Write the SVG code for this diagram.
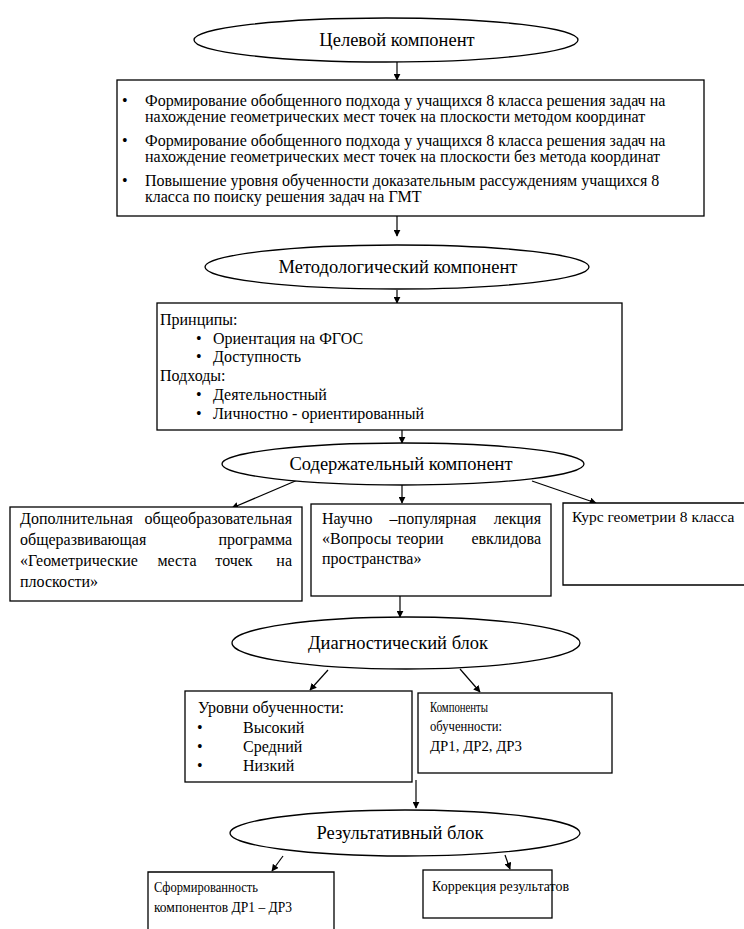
<svg xmlns="http://www.w3.org/2000/svg" width="744" height="929" viewBox="0 0 744 929">
<defs>
<marker id="ah" viewBox="0 0 10 10" refX="9" refY="5" markerWidth="7" markerHeight="7" orient="auto" markerUnits="userSpaceOnUse">
<path d="M0,0 L10,5 L0,10 z" fill="#000"/>
</marker>
</defs>
<style>
.sh{fill:#fff;stroke:#000;stroke-width:1.3}
text{font-family:'Liberation Serif','DejaVu Serif','Noto Serif',serif;fill:#000}
.e{font-size:18.5px;text-anchor:middle}
.b{font-size:16px}
.s{font-size:14px}
.m{text-anchor:middle}
.r{text-anchor:end}
.c{stroke:#000;stroke-width:1.2;fill:none;marker-end:url(#ah)}
</style>
<rect width="744" height="929" fill="#fff"/>

<g id="connectors">
<line class="c" x1="397" y1="62" x2="397" y2="80"/>
<line class="c" x1="397" y1="216" x2="397" y2="236"/>
<line class="c" x1="397" y1="290" x2="397" y2="303"/>
<line class="c" x1="402" y1="430" x2="402" y2="443"/>
<line class="c" x1="300" y1="479" x2="232" y2="508"/>
<line class="c" x1="402" y1="485" x2="402" y2="503"/>
<line class="c" x1="532" y1="481" x2="596" y2="503"/>
<line class="c" x1="400" y1="596" x2="400" y2="617"/>
<line class="c" x1="328" y1="670" x2="310" y2="690"/>
<line class="c" x1="460" y1="669" x2="480" y2="692"/>
<line class="c" x1="416" y1="780" x2="416" y2="808"/>
<line class="c" x1="283" y1="856" x2="272" y2="871"/>
<line class="c" x1="505" y1="855" x2="510" y2="869"/>
</g>

<g id="n1">
<ellipse class="sh" cx="386" cy="40" rx="192" ry="22"/>
<text class="e" x="397" y="46">Целевой компонент</text>
</g>

<g id="n2">
<rect class="sh" x="117" y="80" width="587" height="136"/>
<text class="b" x="122" y="106">•</text>
<text class="b" x="145" y="106">Формирование обобщенного подхода у учащихся 8 класса решения задач на</text>
<text class="b" x="145" y="122">нахождение геометрических мест точек на плоскости методом координат</text>
<text class="b" x="122" y="146">•</text>
<text class="b" x="145" y="146">Формирование обобщенного подхода у учащихся 8 класса решения задач на</text>
<text class="b" x="145" y="162">нахождение геометрических мест точек на плоскости без метода координат</text>
<text class="b" x="122" y="186">•</text>
<text class="b" x="145" y="186">Повышение уровня обученности доказательным рассуждениям учащихся 8</text>
<text class="b" x="145" y="202">класса по поиску решения задач на ГМТ</text>
</g>

<g id="n3">
<ellipse class="sh" cx="397" cy="267" rx="192" ry="22"/>
<text class="e" x="398" y="273">Методологический компонент</text>
</g>

<g id="n4">
<rect class="sh" x="157" y="303" width="465" height="127"/>
<text class="b" x="160" y="325">Принципы:</text>
<text class="b" x="196" y="344">•</text>
<text class="b" x="213" y="344">Ориентация на ФГОС</text>
<text class="b" x="196" y="362">•</text>
<text class="b" x="213" y="362">Доступность</text>
<text class="b" x="160" y="381">Подходы:</text>
<text class="b" x="196" y="400">•</text>
<text class="b" x="213" y="400">Деятельностный</text>
<text class="b" x="196" y="419">•</text>
<text class="b" x="213" y="419">Личностно - ориентированный</text>
</g>

<g id="n5">
<ellipse class="sh" cx="403" cy="464" rx="181" ry="21"/>
<text class="e" x="401" y="470">Содержательный компонент</text>
</g>

<g id="n6">
<rect class="sh" x="10" y="507" width="292" height="94"/>
<text class="b" x="20" y="524">Дополнительная</text>
<text class="b r" x="292" y="524">общеобразовательная</text>
<text class="b" x="20" y="545">общеразвивающая</text>
<text class="b r" x="292" y="545">программа</text>
<text class="b" x="20" y="566">«Геометрические</text>
<text class="b m" x="177" y="566">места</text>
<text class="b m" x="234" y="566">точек</text>
<text class="b r" x="292" y="566">на</text>
<text class="b" x="20" y="587">плоскости»</text>
</g>

<g id="n7">
<rect class="sh" x="311" y="504" width="240" height="92"/>
<text class="b" x="322" y="524">Научно</text>
<text class="b m" x="433" y="524">–популярная</text>
<text class="b r" x="541" y="524">лекция</text>
<text class="b" x="322" y="544">«Вопросы</text>
<text class="b m" x="420" y="544">теории</text>
<text class="b r" x="541" y="544">евклидова</text>
<text class="b" x="322" y="564">пространства»</text>
</g>

<g id="n8">
<path class="sh" d="M744,503 L563,503 L563,585 L744,585"/>
<text x="572" y="522" style="font-size:15.5px">Курс геометрии 8 класса</text>
</g>

<g id="n9">
<ellipse class="sh" cx="406" cy="643" rx="174" ry="26"/>
<text class="e" x="398" y="649">Диагностический блок</text>
</g>

<g id="n10">
<rect class="sh" x="185" y="691" width="227" height="91"/>
<text class="b" x="198" y="713">Уровни обученности:</text>
<text class="b" x="197" y="733">•</text>
<text class="b" x="243" y="733">Высокий</text>
<text class="b" x="197" y="752">•</text>
<text class="b" x="243" y="752">Средний</text>
<text class="b" x="197" y="771">•</text>
<text class="b" x="243" y="771">Низкий</text>
</g>

<g id="n11">
<rect class="sh" x="418" y="693" width="194" height="80"/>
<text class="s" x="430" y="712" textLength="58" lengthAdjust="spacingAndGlyphs">Компоненты</text>
<text class="s" x="430" y="731" textLength="72" lengthAdjust="spacingAndGlyphs">обученности:</text>
<text class="s" x="430" y="751" textLength="92" lengthAdjust="spacingAndGlyphs">ДР1, ДР2, ДР3</text>
</g>

<g id="n12">
<ellipse class="sh" cx="405" cy="833" rx="175" ry="23"/>
<text class="e" x="400" y="839">Результативный блок</text>
</g>

<g id="n13">
<path class="sh" d="M148,929 L148,872 L334,872 L334,929"/>
<text class="s" x="154" y="892" textLength="104" lengthAdjust="spacingAndGlyphs">Сформированность</text>
<text class="s" x="154" y="912" textLength="138" lengthAdjust="spacingAndGlyphs">компонентов ДР1 – ДР3</text>
</g>

<g id="n14">
<rect class="sh" x="423" y="870" width="129" height="48"/>
<text class="s" x="432" y="891">Коррекция результатов</text>
</g>
</svg>
